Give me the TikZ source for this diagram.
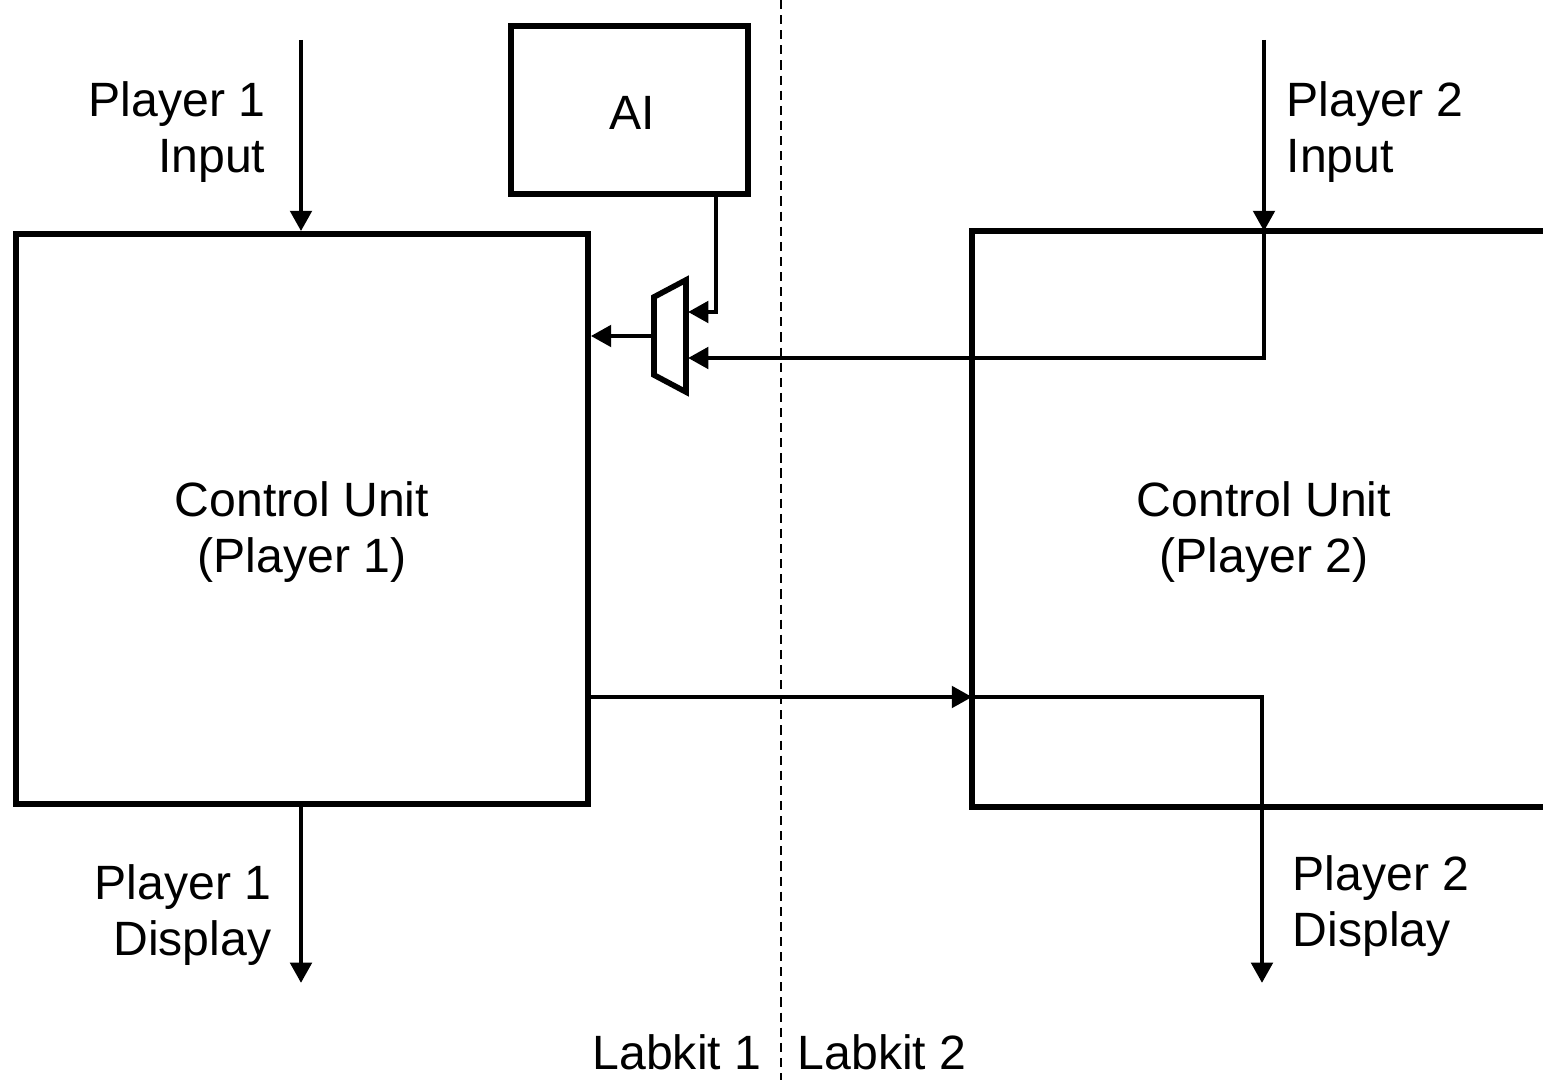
\documentclass[tikz,border=0pt]{standalone}
\usepackage{fontspec}
\setmainfont{Liberation Sans}
\usetikzlibrary{arrows.meta,positioning}
\newcommand{\lblfont}{\fontsize{13.7}{16.1}\selectfont}
\tikzset{
  >={Triangle[length=5.8pt,width=6pt]},
  block/.style={draw,line width=1.6pt},
  wire/.style={->,line width=1.35pt},
  tag/.style={align=#1,font=\lblfont,inner sep=0pt},
  tag/.default=center,
  kit line/.style={line width=0.5pt,dash pattern=on 2.6pt off 1.7pt},
}
\begin{document}
\begin{tikzpicture}
  \useasboundingbox (0,0) rectangle (15.43,-10.8);
  % labkit boundary
  \draw[kit line] (7.81,0) -- (7.81,-10.8);
  % control units and AI
  \node[block,minimum width=57.2mm,minimum height=57mm] (cu1) at (3.02,-5.19) {};
  \node[minimum width=56.8mm,minimum height=57mm,outer sep=0.8pt] (cu2) at (12.59,-5.19) {};
  \draw[line width=1.6pt] (cu2.north east) -- (cu2.north west) -- (cu2.south west) -- (cu2.south east);
  \node[block,minimum width=23.7mm,minimum height=16.8mm] (ai) at (6.295,-1.10) {};
  \node[tag] (cu1 txt) at ([yshift=-1.3mm]cu1.center) {Control Unit\\(Player 1)};
  \node[tag] (cu2 txt) at (12.64,-5.32) {Control Unit\\(Player 2)};
  \node[tag] (ai txt) at (6.32,-1.13) {AI};
  % mux
  \draw[line width=1.6pt] (6.54,-2.97) -- (6.86,-2.80) -- (6.86,-3.92) -- (6.54,-3.75) -- cycle;
  \coordinate (mux out) at (6.53,-3.36);
  \coordinate (mux in0) at (6.88,-3.12);
  \coordinate (mux in1) at (6.88,-3.58);
  % ports
  \coordinate (p1 in) at (3.01,-0.40);
  \coordinate (p1 out) at (3.01,-9.83);
  \coordinate (p2 in) at (12.64,-0.40);
  \coordinate (p2 out) at (12.62,-9.83);
  \coordinate (ai out) at ([xshift=8.65mm]ai.south);
  \coordinate (link) at (cu1.east |- 0,-6.97);
  % connectors
  \draw[wire] (p1 in) -- (p1 in |- cu1.north);
  \draw[wire] (p1 in |- cu1.south) -- (p1 out);
  \draw[wire] (p2 in) -- (p2 in |- cu2.north);
  \draw[wire] (p2 in |- cu2.north) |- (mux in1);
  \draw[wire] (ai out) |- (mux in0);
  \draw[wire] (mux out) -- (mux out -| cu1.east);
  \draw[wire] (link) -- (link -| cu2.west);
  \draw[wire] (link -| cu2.west) -| (p2 out);
  % labels
  \node[tag=right,anchor=east] (p1 in lbl) at (2.66,-1.32) {Player 1\\Input};
  \node[tag=right,anchor=east] (p1 out lbl) at (2.72,-9.15) {Player 1\\Display};
  \node[tag=left,anchor=west] (p2 in lbl) at (12.86,-1.32) {Player 2\\Input};
  \node[tag=left,anchor=west] (p2 out lbl) at (12.92,-9.06) {Player 2\\Display};
  \node[tag,anchor=east] (kit1) at (7.62,-10.52) {Labkit 1};
  \node[tag,anchor=west] (kit2) at (7.97,-10.52) {Labkit 2};
\end{tikzpicture}
\end{document}
